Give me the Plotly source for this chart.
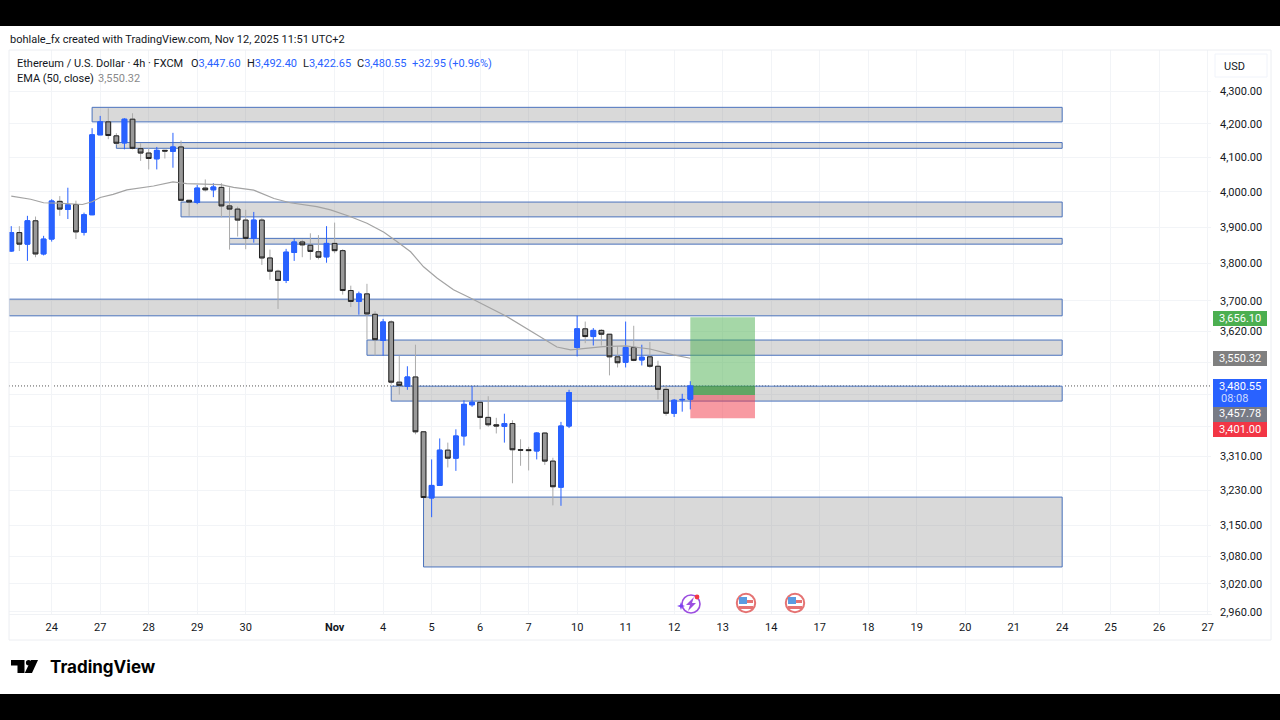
import plotly.graph_objects as go

# 4h candles (bar 0 = first visible candle)
opens = [3834, 3885, 3853, 3918, 3826, 3867, 3973, 3950, 3964, 3886,
         3935, 4167, 4206, 4164, 4143, 4214, 4126, 4113, 4096, 4121,
         4118, 4131, 3976, 3970, 4011, 4006, 4013, 3960, 3951, 3920,
         3869, 3920, 3815, 3779, 3754, 3830, 3859, 3850, 3832, 3818,
         3855, 3835, 3727, 3698, 3718, 3664, 3596, 3644, 3490, 3480,
         3503, 3368, 3212, 3241, 3324, 3305, 3358, 3434, 3440, 3403,
         3385, 3381, 3388, 3325, 3325, 3322, 3365, 3298, 3237, 3382,
         3578, 3626, 3606, 3622, 3612, 3554, 3540, 3578, 3546, 3554,
         3530, 3472, 3413, 3446, 3447.60]
highs = [3903, 3903, 3932, 3930, 3876, 3979, 3988, 4012, 3975, 3941,
         4187, 4224, 4247, 4172, 4217, 4232, 4142, 4127, 4131, 4122,
         4173, 4150, 3977, 4020, 4036, 4025, 4025, 4013, 3958, 3949,
         3943, 3925, 3838, 3783, 3840, 3869, 3865, 3883, 3878, 3903,
         3913, 3839, 3740, 3724, 3745, 3672, 3652, 3648, 3557, 3530,
         3585, 3368, 3302, 3352, 3342, 3374, 3445, 3480, 3441, 3455,
         3402, 3412, 3396, 3350, 3332, 3367, 3366, 3306, 3392, 3471,
         3660, 3645, 3628, 3625, 3612, 3581, 3645, 3634, 3585, 3592,
         3544, 3482, 3448, 3461, 3492.40]
lows = [3832, 3834, 3807, 3817, 3822, 3860, 3932, 3923, 3867, 3877,
        3934, 4167, 4154, 4137, 4124, 4124, 4090, 4065, 4065, 4097,
        4070, 3972, 3932, 3965, 4001, 3985, 3928, 3838, 3874, 3839,
        3857, 3796, 3756, 3678, 3747, 3807, 3817, 3810, 3811, 3802,
        3828, 3716, 3683, 3663, 3598, 3557, 3557, 3484, 3459, 3471,
        3362, 3213, 3168, 3241, 3283, 3275, 3335, 3429, 3374, 3380,
        3364, 3342, 3246, 3287, 3276, 3302, 3289, 3195, 3194, 3377,
        3555, 3589, 3583, 3583, 3507, 3527, 3527, 3543, 3532, 3526,
        3447, 3407, 3404, 3417, 3422.65]
closes = [3885, 3853, 3918, 3826, 3867, 3974, 3951, 3963, 3887, 3935,
          4167, 4206, 4165, 4142, 4214, 4127, 4113, 4097, 4121, 4119,
          4131, 3976, 3971, 4011, 4006, 4014, 3960, 3951, 3920, 3869,
          3920, 3815, 3779, 3754, 3831, 3859, 3851, 3833, 3817, 3855,
          3835, 3727, 3698, 3718, 3665, 3598, 3644, 3490, 3482, 3503,
          3368, 3213, 3241, 3324, 3305, 3358, 3435, 3440, 3403, 3385,
          3382, 3388, 3325, 3324, 3323, 3365, 3298, 3238, 3382, 3464,
          3626, 3606, 3622, 3612, 3554, 3539, 3578, 3545, 3553, 3530,
          3472, 3413, 3445, 3447, 3480.55]
bars = list(range(len(opens)))

# EMA 50
ema_bars = [0, 2.4, 4, 5.7, 8.8, 10, 11, 12.6, 14.3, 15.5, 17.6, 20, 21.7, 25.9,
            27.5, 30, 32.5, 34.5, 37.8, 39.5, 41.9, 44, 46.1, 47.7, 49.4, 51,
            52.7, 54.7, 56.8, 61.3, 65.8, 67.5, 69.2, 71.6, 73.2, 76, 79, 81.9, 84]
ema_vals = [3988, 3979, 3969, 3968, 3964, 3972, 3984, 3993, 4006, 4010, 4017, 4029,
            4024, 4021, 4013, 4005, 3981, 3969, 3958, 3949, 3930, 3911, 3886, 3860,
            3832, 3791, 3760, 3729, 3707, 3658, 3600, 3579, 3572, 3577, 3580, 3582,
            3574, 3559, 3550.32]

# supply / demand zones
zone_start = [10, 13, 21, 27, -0.3, 44, 47, 51]
zone_end = [130, 130, 130, 130, 130, 130, 130, 130]
zone_top = [4250, 4144, 3971, 3869, 3704, 3597, 3480, 3214]
zone_bottom = [4206, 4127, 3929, 3853, 3660, 3558, 3443, 3057]

# long position tool
pos_start, pos_end = 84, 92
target_price, entry_price, stop_price, last_price = 3656.10, 3457.78, 3401.00, 3480.55

tick_bars = [5, 11, 17, 23, 29, 40, 46, 52, 58, 64, 70, 76, 82, 88, 94, 100, 106,
             112, 118, 124, 130, 136, 142, 148]
tick_days = ["24", "27", "28", "29", "30", "<b>Nov</b>", "4", "5", "6", "7", "10", "11",
             "12", "13", "14", "17", "18", "19", "20", "21", "24", "25", "26", "27"]
price_ticks = [4300, 4200, 4100, 4000, 3900, 3800, 3700, 3620, 3540, 3460, 3380,
               3310, 3230, 3150, 3080, 3020, 2960]
# the three labels behind the price tags are not readable in the picture
price_labels = ["4,300.00", "4,200.00", "4,100.00", "4,000.00", "3,900.00", "3,800.00",
                "3,700.00", "3,620.00", "", "", "", "3,310.00", "3,230.00", "3,150.00",
                "3,080.00", "3,020.00", "2,960.00"]

FONT = "Roboto"
BLUE = "#2962ff"
GREY = "#999999"


def X(px):
    return px / 1280


def Y(py):
    return 1 - py / 720


def rect(x0, y0, x1, y1, fill, line="rgba(0,0,0,0)", width=0):
    return dict(type="rect", xref="paper", yref="paper", x0=X(x0), x1=X(x1), y0=Y(y0), y1=Y(y1),
                fillcolor=fill, line=dict(color=line, width=width), layer="above")


def circle(cx, cy, r, fill, line="rgba(0,0,0,0)", width=0):
    return dict(type="circle", xref="paper", yref="paper", x0=X(cx - r), x1=X(cx + r),
                y0=Y(cy + r), y1=Y(cy - r), fillcolor=fill,
                line=dict(color=line, width=width), layer="above")


def poly(points, fill):
    d = "M " + " L ".join(f"{X(a):.5f},{Y(b):.5f}" for a, b in points) + " Z"
    return dict(type="path", xref="paper", yref="paper", path=d, fillcolor=fill,
                line=dict(width=0), layer="above")


def label(px, py, text, size=11, color="#131722", anchor="left", **kw):
    return dict(xref="paper", yref="paper", x=X(px), y=Y(py), text=text, showarrow=False,
                xanchor=anchor, yanchor="middle", borderpad=0,
                font=dict(family=FONT, size=size, color=color), **kw)


fig = go.Figure()

# wicks first, then the bodies on top so that the outline can differ from the wick colour
fig.add_trace(go.Candlestick(
    x=bars, open=opens, high=highs, low=lows, close=closes, whiskerwidth=0,
    increasing=dict(line=dict(color=BLUE, width=1), fillcolor=BLUE),
    decreasing=dict(line=dict(color="#ababab", width=1), fillcolor=GREY),
))
fig.add_trace(go.Candlestick(
    x=bars, open=opens, close=closes, whiskerwidth=0,
    high=[max(o, c) for o, c in zip(opens, closes)],
    low=[min(o, c) for o, c in zip(opens, closes)],
    increasing=dict(line=dict(color=BLUE, width=1), fillcolor=BLUE),
    decreasing=dict(line=dict(color="#222222", width=1), fillcolor=GREY),
))
fig.add_trace(go.Scatter(x=ema_bars, y=ema_vals, mode="lines",
                         line=dict(color="#a3a3a3", width=1.2), hoverinfo="skip"))

shapes = []
# last price dotted line
shapes.append(dict(type="line", xref="paper", yref="y", x0=X(9), x1=X(1212), y0=last_price, y1=last_price,
                   layer="between", line=dict(color="#555555", width=1, dash="1px,2px")))
for s, e, t, b in zip(zone_start, zone_end, zone_top, zone_bottom):
    shapes.append(dict(type="rect", xref="x", yref="y", x0=s, x1=e, y0=b, y1=t, layer="between",
                       fillcolor="rgba(128,128,128,0.3)", line=dict(color="#4a72bd", width=1)))
# position tool
for low_p, high_p, col in [(entry_price, target_price, "rgba(76,175,80,0.5)"),
                           (stop_price, entry_price, "rgba(242,54,69,0.5)"),
                           (entry_price, last_price, "rgba(56,142,60,0.55)")]:
    shapes.append(dict(type="rect", xref="x", yref="y", x0=pos_start, x1=pos_end, y0=low_p, y1=high_p,
                       layer="between", fillcolor=col, line=dict(width=0)))

# black bands and the frame of the widget
shapes.append(rect(0, 0, 1280, 26, "#000000"))
shapes.append(rect(0, 694, 1280, 720, "#000000"))
shapes.append(rect(9, 50, 1271, 640, "rgba(0,0,0,0)", "#eceef2", 1))
shapes.append(dict(type="line", xref="paper", yref="paper", x0=X(9), x1=X(1212), y0=Y(614.5), y1=Y(614.5),
                   line=dict(color="#f0f2f5", width=1), layer="above"))
shapes.append(rect(1215, 54, 1267, 77, "#ffffff", "#f0f3fa", 1))

# price tags
shapes.append(rect(1213, 311, 1267, 326, "#4caf50"))
shapes.append(rect(1213, 351, 1267, 366, "#808080"))
shapes.append(rect(1213, 379, 1267, 407, BLUE))
shapes.append(rect(1213, 407, 1267, 422, "#787b86"))
shapes.append(rect(1213, 422, 1267, 437, "#f23645"))

# event icons under the candles
shapes.append(circle(691, 604, 9, "#ffffff", "#9c4fe0", 1.6))
shapes.append(poly([(694, 597), (686, 605), (690, 605), (688, 611), (696, 603), (692, 603)], "#9c4fe0"))
shapes.append(poly([(681, 602), (682, 605), (685, 606), (682, 607), (681, 610), (680, 607), (677, 606), (680, 605)], "#7c3ff2"))
shapes.append(circle(697, 597, 2.4, "#f23645"))
for cx in [746, 795]:
    shapes.append(circle(cx, 603, 9.2, "#ffffff", "#e57373", 2))
    shapes.append(rect(cx - 7, 597, cx + 1, 604, "#5b9be0"))
    shapes.append(rect(cx + 1, 600, cx + 7, 603, "#e57373"))
    shapes.append(rect(cx - 7, 606, cx + 7, 609, "#e57373"))

# TradingView logo mark
shapes.append(poly([(11, 660), (24.5, 660), (24.5, 673), (17.5, 673), (17.5, 665.5), (11, 665.5)], "#000000"))
shapes.append(circle(28.6, 662.8, 2.7, "#000000"))
shapes.append(poly([(38, 660), (32, 673), (24.8, 673), (31, 660)], "#000000"))

val = '<span style="color:#2962ff">%s</span>'

annotations = [
    label(9, 39, "bohlale_fx created with TradingView.com, Nov 12, 2025 11:51 UTC+2"),
    label(16, 63, "Ethereum / U.S. Dollar · 4h · FXCM"),
    label(190, 63, "O" + val % "3,447.60"),
    label(246, 63, "H" + val % "3,492.40"),
    label(302, 63, "L" + val % "3,422.65"),
    label(356, 63, "C" + val % "3,480.55"),
    label(411, 63, val % "+32.95 (+0.96%)"),
    label(16, 78, "EMA (50, close)"),
    label(97, 78, "3,550.32", color="#8a8a8a"),
    label(1223, 66, "USD"),
    label(1262, 318.5, "3,656.10", color="#ffffff", anchor="right"),
    label(1262, 358.5, "3,550.32", color="#ffffff", anchor="right"),
    label(1262, 386, "3,480.55", color="#ffffff", anchor="right"),
    label(1220, 398, "08:08", color="#cfdcff"),
    label(1262, 414, "3,457.78", color="#ffffff", anchor="right"),
    label(1262, 429.5, "3,401.00", color="#ffffff", anchor="right"),
    dict(xref="paper", yref="paper", x=X(48), y=Y(667), text="<b>TradingView</b>", showarrow=False,
         xanchor="left", yanchor="middle", font=dict(family="Inter", size=17, color="#000000")),
]

fig.update_layout(
    width=1280, height=720, margin=dict(l=0, r=0, t=0, b=0, autoexpand=False),
    paper_bgcolor="#ffffff", plot_bgcolor="#ffffff", showlegend=False, boxgap=0.16,
    shapes=shapes, annotations=annotations,
    xaxis=dict(domain=[X(9), X(1211)], range=[-0.28, 148.41], rangeslider=dict(visible=False),
               tickmode="array", tickvals=tick_bars, ticktext=tick_days, tickangle=0,
               showgrid=True, gridcolor="#f2f4f7", gridwidth=1, zeroline=False, showline=False,
               tickfont=dict(family=FONT, size=11, color="#131722"), ticklabelstandoff=5),
    yaxis=dict(domain=[Y(614), Y(50)], type="log", range=[3.47065, 3.64624], side="right",
               tickmode="array", tickvals=price_ticks, ticktext=price_labels,
               showgrid=True, gridcolor="#f2f4f7", gridwidth=1, zeroline=False, showline=False,
               tickfont=dict(family=FONT, size=11, color="#131722"), ticklabelstandoff=8),
)

# the page's default 8px body margin would push the whole chart off its place
fig.write_html("out.html", config={"displayModeBar": False},
               post_script="document.body.style.margin = '0'; document.documentElement.style.overflow = 'hidden';")
